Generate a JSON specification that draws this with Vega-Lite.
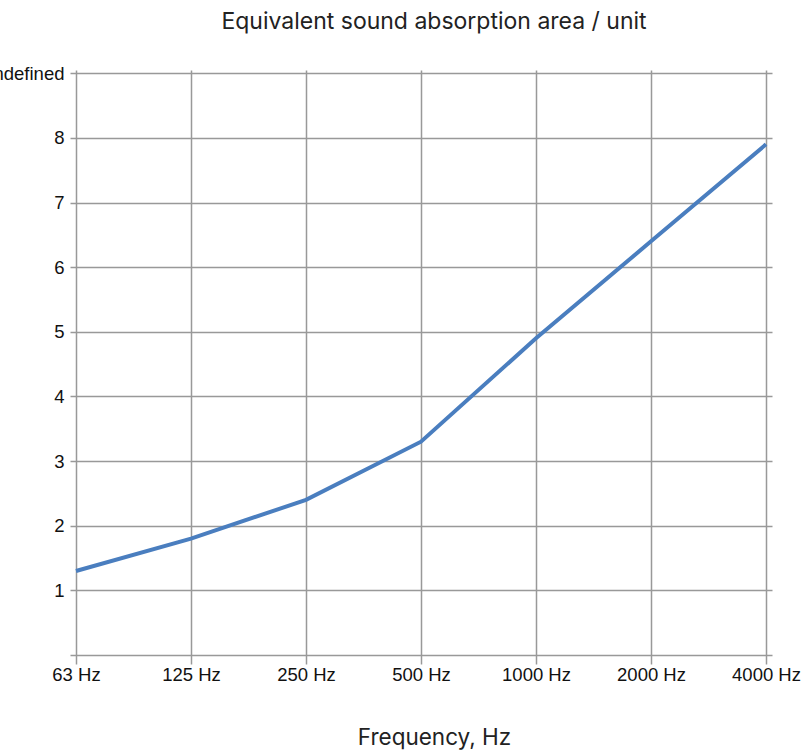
{
  "$schema": "https://vega.github.io/schema/vega-lite/v6.json",
  "autosize": {"type": "none"},
  "width": 702,
  "height": 585,
  "padding": {"left": 70, "top": 70, "right": 39, "bottom": 96},
  "background": "white",
  "title": {
    "text": "Equivalent sound absorption area / unit",
    "font": "Inter",
    "fontSize": 23,
    "fontWeight": "normal",
    "color": "#222222",
    "anchor": "middle",
    "frame": "group",
    "baseline": "alphabetic",
    "offset": 12,
    "dx": 13
  },
  "config": {"view": {"stroke": null}},
  "data": {
    "values": [
      {"freq": "63 Hz", "value": 1.3},
      {"freq": "125 Hz", "value": 1.8},
      {"freq": "250 Hz", "value": 2.4},
      {"freq": "500 Hz", "value": 3.3},
      {"freq": "1000 Hz", "value": 4.9},
      {"freq": "2000 Hz", "value": 6.4},
      {"freq": "4000 Hz", "value": 7.9}
    ]
  },
  "mark": {"type": "line", "color": "#4A7EBF", "strokeWidth": 4},
  "encoding": {
    "x": {
      "field": "freq",
      "type": "ordinal",
      "sort": null,
      "scale": {"type": "point", "padding": 0.052},
      "axis": {
        "title": "Frequency, Hz",
        "titleFont": "Inter",
        "titleFontSize": 22.5,
        "titleFontWeight": "normal",
        "titleColor": "#222222",
        "titlePadding": 43,
        "titleX": 364,
        "labelFont": "Liberation Sans",
        "labelFontSize": 18.5,
        "labelColor": "#111111",
        "labelAngle": 0,
        "labelPadding": 1,
        "domain": false,
        "grid": true,
        "gridColor": "#999999",
        "gridWidth": 1.5,
        "ticks": true,
        "tickColor": "#999999",
        "tickWidth": 1.5,
        "tickSize": 9
      }
    },
    "y": {
      "field": "value",
      "type": "quantitative",
      "scale": {"domain": [0, 9.05], "nice": false, "zero": true},
      "axis": {
        "title": null,
        "values": [0, 1, 2, 3, 4, 5, 6, 7, 8, 9],
        "labelExpr": "datum.value == 0 ? '' : datum.value == 9 ? 'undefined' : datum.label",
        "labelFont": "Liberation Sans",
        "labelFontSize": 18.5,
        "labelColor": "#111111",
        "labelPadding": 6,
        "domain": false,
        "grid": true,
        "gridColor": "#999999",
        "gridWidth": 1.5,
        "ticks": false
      }
    }
  }
}
